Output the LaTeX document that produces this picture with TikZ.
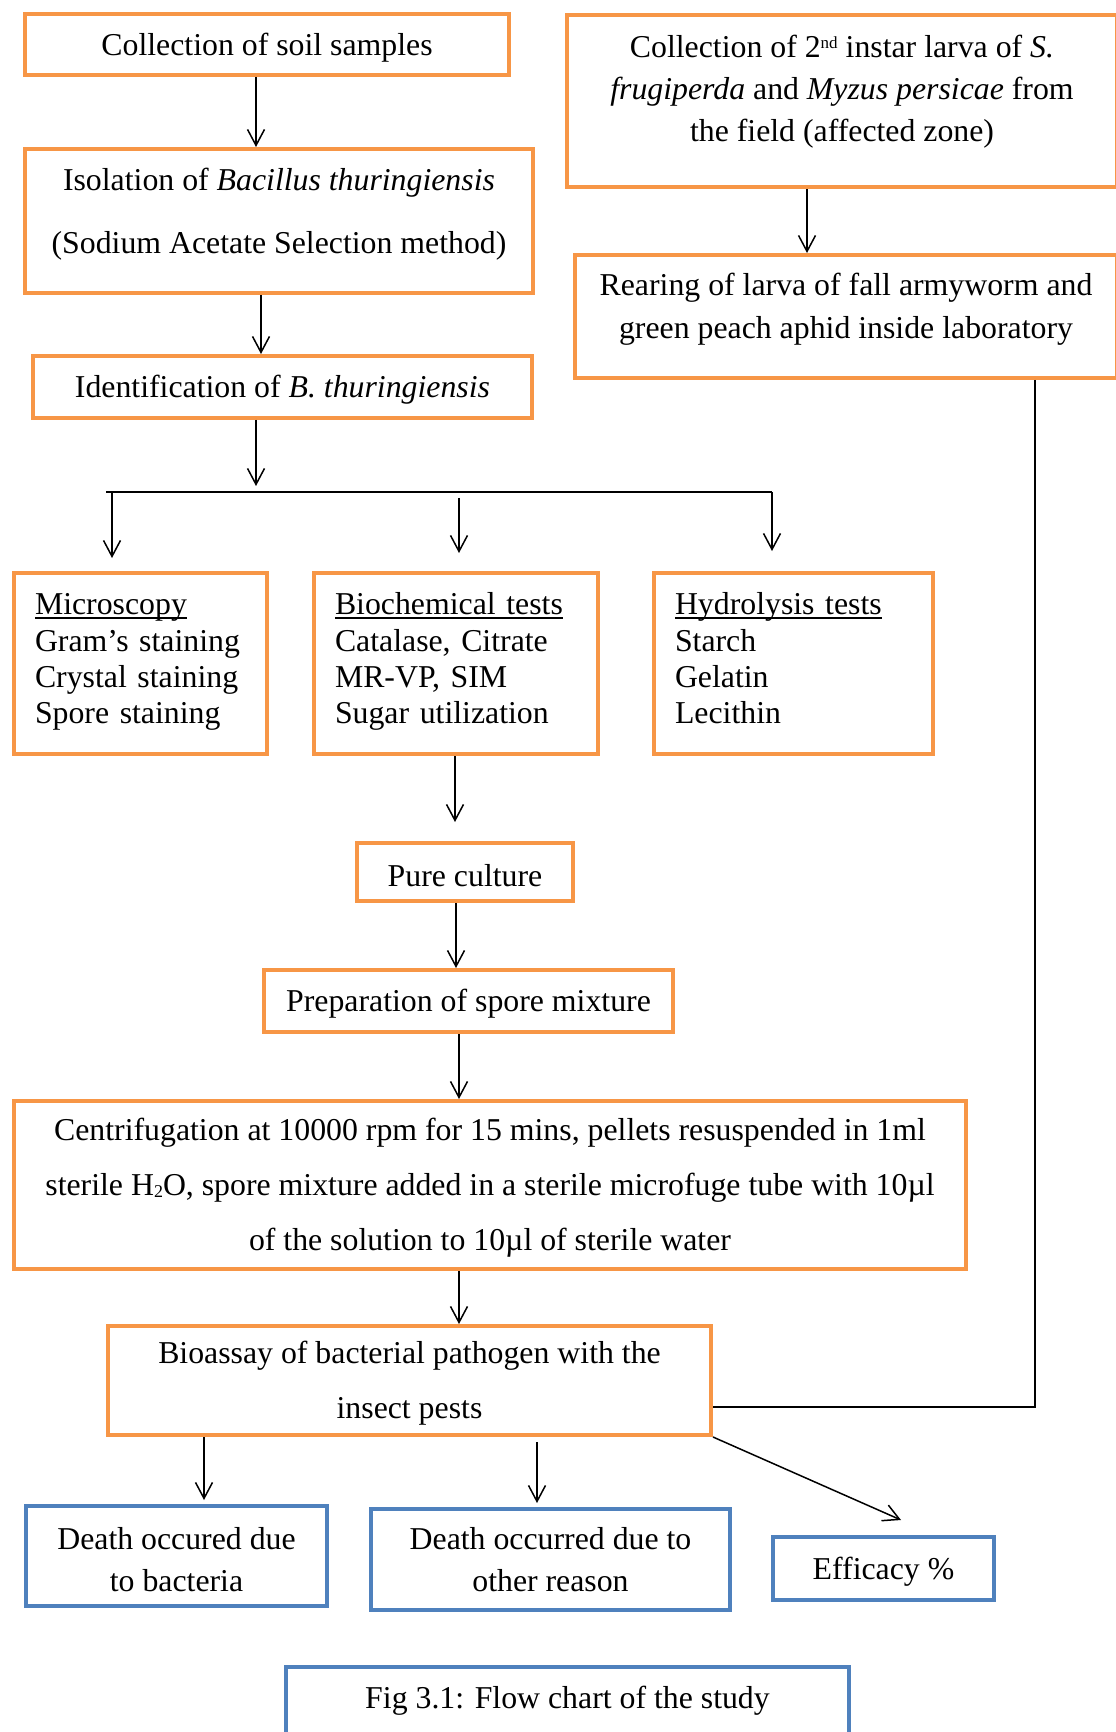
\documentclass[tikz,border=0pt]{standalone}
\usepackage{fontspec}
\setmainfont{Liberation Serif}
\usetikzlibrary{arrows.meta}
\definecolor{flowOrange}{HTML}{F79646}
\definecolor{flowBlue}{HTML}{4F81BD}
\newcommand{\boxfont}[1]{\fontsize{15.9pt}{#1}\selectfont}
\newcommand{\topstrut}{\rule{0pt}{14.2pt}}
\newcommand{\dropdepth}[1]{\rule[-#1]{0pt}{#1}}
\newcommand{\smallsup}[1]{\raisebox{4.5pt}{\fontsize{8.5pt}{8.5pt}\selectfont #1}}
\newcommand{\smallsub}[1]{\raisebox{-1pt}{\fontsize{9pt}{9pt}\selectfont #1}}
\newsavebox{\headbox}
\newcommand{\testhead}[1]{\sbox{\headbox}{#1}\rlap{\rule[-2pt]{\wd\headbox}{0.9pt}}\usebox{\headbox}}

\begin{document}
\begin{tikzpicture}[x=0.5pt, y=-0.5pt,
  box/.style={draw=flowOrange, line width=2pt, inner sep=0pt, align=center, font=\boxfont{21pt}},
  bluebox/.style={box, draw=flowBlue},
  testbox/.style={box, align=left, minimum height=90.5pt, font=\boxfont{18.2pt}},
  arr/.style={-{Straight Barb[length=8pt,width=8.5pt]}, line width=0.75pt},
  link/.style={line width=0.75pt}]
\useasboundingbox (0,0) rectangle (1115,1732);

% left column: isolation of the bacterium
\node[box, minimum width=242pt, minimum height=30.5pt] (soil) at (267,44.5) {\topstrut Collection of soil samples};
\node[box, minimum width=254pt, minimum height=72pt, font=\boxfont{31.5pt}] (iso) at (279,221)
  {\topstrut Isolation of \textit{Bacillus thuringiensis}\\(Sodium Acetate Selection method)\dropdepth{13pt}};
\node[box, minimum width=249.5pt, minimum height=31pt] (ident) at (282.5,387) {\topstrut Identification of \textit{B. thuringiensis}};

% right column: insects
\node[box, minimum width=275pt, minimum height=86pt] (field) at (842,101)
  {\topstrut Collection of 2\smallsup{nd} instar larva of \textit{S.}\\\textit{frugiperda} and \textit{Myzus persicae} from\\the field (affected zone)\dropdepth{15.5pt}};
\node[box, minimum width=271pt, minimum height=61.5pt, font=\boxfont{21.5pt}] (rear) at (846,316.5)
  {\topstrut Rearing of larva of fall armyworm and\\green peach aphid inside laboratory\dropdepth{13.5pt}};

% tests
\node[testbox, minimum width=126.5pt, text width=105.5pt] (micro) at (140.5,663.5)
  {\topstrut\testhead{Microscopy}\\Gram's staining\\Crystal staining\\Spore staining\dropdepth{8.5pt}};
\node[testbox, minimum width=142pt, text width=121pt] (chem) at (456,663.5)
  {\topstrut\testhead{Biochemical tests}\\Catalase, Citrate\\MR-VP, SIM\\Sugar utilization\dropdepth{8.5pt}};
\node[testbox, minimum width=139.5pt, text width=118.5pt] (hydro) at (793.5,663.5)
  {\topstrut\testhead{Hydrolysis tests}\\Starch\\Gelatin\\Lecithin\dropdepth{8.5pt}};

% culture and bioassay
\node[box, minimum width=108pt, minimum height=29pt] (pure) at (465,872) {\topstrut Pure culture};
\node[box, minimum width=204.5pt, minimum height=31pt] (spore) at (468.5,1001) {\topstrut Preparation of spore mixture};
\node[box, minimum width=476pt, minimum height=84pt, font=\boxfont{27.5pt}] (centri) at (490,1185)
  {\topstrut Centrifugation at 10000 rpm for 15 mins, pellets resuspended in 1ml\\sterile H\smallsub{2}O, spore mixture added in a sterile microfuge tube with 10µl\\of the solution to 10µl of sterile water};
\node[box, minimum width=301.5pt, minimum height=54.5pt, font=\boxfont{27.5pt}] (bio) at (409.5,1380.5)
  {\topstrut Bioassay of bacterial pathogen with the\\insect pests};

% outcomes
\node[bluebox, minimum width=150.5pt, minimum height=50pt] (deathB) at (176.5,1556) {\topstrut Death occured due\\to bacteria};
\node[bluebox, minimum width=179.5pt, minimum height=50.5pt] (deathO) at (550.5,1559.5) {Death occurred due to\\other reason};
\node[bluebox, minimum width=110.5pt, minimum height=31.5pt] (eff) at (883.5,1568.5) {\topstrut Efficacy \%};
\node[bluebox, minimum width=281.5pt, minimum height=35.5pt] (cap) at (567.5,1702.5) {\topstrut Fig 3.1: Flow chart of the study\dropdepth{8pt}};

% branch points
\coordinate (brTip) at (256,486);
\coordinate (brL) at (106,492);
\coordinate (brR) at (772,492);
\coordinate (microTip) at (112,558);
\coordinate (chemTop) at (459,498);
\coordinate (chemTip) at (459,553);
\coordinate (hydroTip) at (772,551);
\coordinate (pureTip) at (455,822);

\draw[arr] (soil.south -| 256,0) -- (iso.north -| 256,0);
\draw[arr] (iso.south -| 261,0) -- (ident.north -| 261,0);
\draw[arr] (ident.south -| brTip) -- (brTip);
\draw[line width=1.1pt] (brL) -- (brR);
\draw[arr] (brL -| microTip) -- (microTip);
\draw[arr] (chemTop) -- (chemTip);
\draw[arr] (brR) -- (hydroTip);
\draw[arr] (chem.south -| pureTip) -- (pureTip);
\draw[arr] (pure.south -| 456,0) -- (spore.north -| 456,0);
\draw[arr] (spore.south -| 459,0) -- (centri.north -| 459,0);
\draw[arr] (centri.south -| 459,0) -- (bio.north -| 459,0);
\draw[arr] (field.south -| 807,0) -- (rear.north -| 807,0);
\draw[link] (rear.south -| 1035,0) |- (bio.east |- 0,1407);
\draw[arr, shorten >=2pt] (bio.south -| 204,0) -- (deathB.north -| 204,0);
\draw[arr, shorten <=2.5pt, shorten >=2pt] (bio.south -| 537,0) -- (deathO.north -| 537,0);
\draw[arr] (bio.south east) -- ([xshift=8.75pt,yshift=7.5pt]eff.north);
\end{tikzpicture}
\end{document}
